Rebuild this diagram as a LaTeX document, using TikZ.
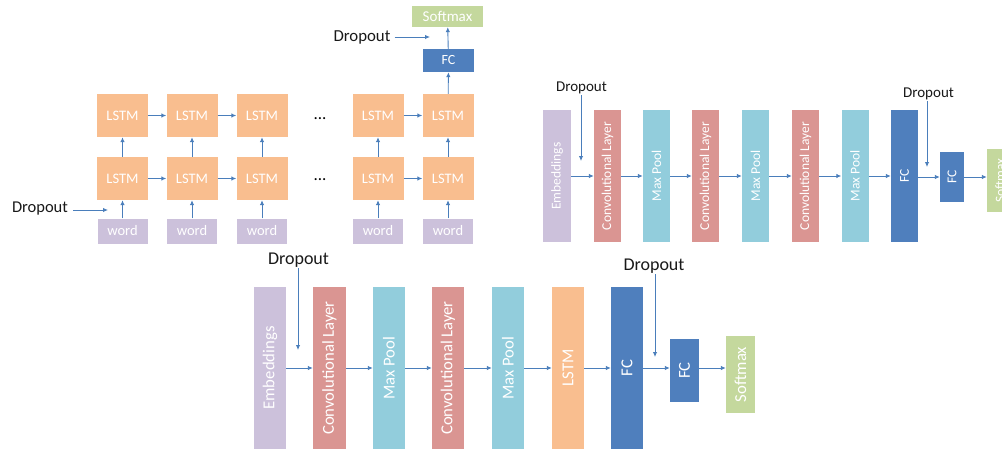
\documentclass[tikz,border=0pt]{standalone}
\usepackage{fontspec}
\setmainfont{Carlito}
\usetikzlibrary{arrows.meta}
\definecolor{lstmc}{HTML}{F9BE8F}
\definecolor{wordc}{HTML}{CCC1DB}
\definecolor{fcc}{HTML}{4F7FBD}
\definecolor{smc}{HTML}{C4D89D}
\definecolor{convc}{HTML}{DA9592}
\definecolor{poolc}{HTML}{92CDDC}
\definecolor{arrc}{HTML}{4A7EBB}
\newcommand{\fs}[1]{\fontsize{#1}{#1}\selectfont}
\tikzset{
  blk/.style={draw=none, inner sep=0pt, text=white, anchor=center},
  lstmbox/.style={blk, fill=lstmc, minimum width=51pt, minimum height=43pt, font=\fs{14.5}},
  wordbox/.style={blk, fill=wordc, minimum width=50pt, minimum height=25pt, font=\fs{14.5}},
  arr/.style={draw=arrc, line width=0.9pt, -{Latex[length=5pt,width=4.5pt]}},
  droptext/.style={inner sep=1pt, text=black!90},
  vtop/.style={blk, rotate=90, font=\fs{13.5}},
  vbot/.style={blk, rotate=90, font=\fs{16.7}},
}
\begin{document}
\begin{tikzpicture}[x=1pt,y=-1pt]
\useasboundingbox (0,0) rectangle (1002,450);
\clip (0,0) rectangle (1002,450);
% ---------------- top-left LSTM network ----------------
\foreach \n/\x in {1/122.5,2/192,3/262,4/378,5/448}{
  \node[lstmbox] (t\n) at (\x,115.5) {LSTM};
  \node[lstmbox] (b\n) at (\x,178.5) {LSTM};
  \node[wordbox] (w\n) at (\x,231) {word};
  \draw[arr] (w\n) -- (b\n);
  \draw[arr] (b\n) -- (t\n);
}
\foreach \a/\b in {1/2,2/3,4/5}{
  \draw[arr] (t\a) -- (t\b);
  \draw[arr] (b\a) -- (b\b);
}
\node[font=\fs{17}] (dots1) at (320,119) {...};
\node[font=\fs{17}] (dots2) at (320,180) {...};
\node[blk, fill=fcc, minimum width=51pt, minimum height=23pt, font=\fs{14}] (fcA) at (448.5,60.5) {FC};
\node[blk, fill=smc, minimum width=71pt, minimum height=21pt, font=\fs{15}] (smA) at (447.5,16.5) {Softmax};
\draw[arr] (t5) -- (fcA);
\draw[arr] (fcA) -- (smA);
\node[droptext, font=\fs{16.8}] (dA) at (362,37) {Dropout};
\coordinate (dAe) at (430,37);
\draw[arr] (dA.east) ++(3,0) coordinate (dAs) (dAs) -- (dAe);
\node[droptext, font=\fs{16.5}] (dB) at (40,209) {Dropout};
\coordinate (dBe) at (108,210);
\draw[arr] (dB.east |- dBe) ++(4,0) coordinate (dBs) (dBs) -- (dBe);
% ---------------- top-right CNN ----------------
\node[vtop, fill=wordc, minimum width=132pt, minimum height=28pt] (e1) at (557,176) {Embeddings};
\node[vtop, fill=convc, minimum width=132pt, minimum height=27pt] (c1) at (607.5,176) {Convolutional Layer};
\node[vtop, fill=poolc, minimum width=132pt, minimum height=27pt] (p1) at (656.5,176) {Max Pool};
\node[vtop, fill=convc, minimum width=132pt, minimum height=27pt] (c2) at (705.5,176) {Convolutional Layer};
\node[vtop, fill=poolc, minimum width=132pt, minimum height=27pt] (p2) at (755.5,176) {Max Pool};
\node[vtop, fill=convc, minimum width=132pt, minimum height=27pt] (c3) at (805.5,176) {Convolutional Layer};
\node[vtop, fill=poolc, minimum width=132pt, minimum height=27pt] (p3) at (855,176) {Max Pool};
\node[vtop, fill=fcc, minimum width=132pt, minimum height=27pt] (f1) at (904.5,176) {FC};
\node[vtop, fill=fcc, minimum width=50pt, minimum height=24pt] (f2) at (952,177) {FC};
\node[vtop, fill=smc, minimum width=63pt, minimum height=26pt] (s1) at (1000,180.5) {Softmax};
\draw[arr] (e1.south) -- (c1.north);
\draw[arr] (c1.south) -- (p1.north);
\draw[arr] (p1.south) -- (c2.north);
\draw[arr] (c2.south) -- (p2.north);
\draw[arr] (p2.south) -- (c3.north);
\draw[arr] (c3.south) -- (p3.north);
\draw[arr] (p3.south) -- (f1.north);
\draw[arr] (f1.south |- 0,177) -- (f2.north |- 0,177);
\draw[arr] (f2.south |- 0,177) -- (s1.north |- 0,177);
\node[droptext, font=\fs{15}] (dC) at (581.5,88) {Dropout};
\coordinate (dCe) at (581,161);
\draw[arr] (dC.south -| dCe) -- (dCe);
\node[droptext, font=\fs{15}] (dD) at (928.5,94) {Dropout};
\coordinate (dDe) at (927,167);
\draw[arr] (dD.south -| dDe) -- (dDe);
% ---------------- bottom CNN + LSTM ----------------
\node[vbot, fill=wordc, minimum width=162pt, minimum height=32pt] (E) at (270,368) {Embeddings};
\node[vbot, fill=convc, minimum width=162pt, minimum height=33pt] (C1) at (329.5,368) {Convolutional Layer};
\node[vbot, fill=poolc, minimum width=162pt, minimum height=32pt] (P1) at (389,368) {Max Pool};
\node[vbot, fill=convc, minimum width=162pt, minimum height=32pt] (C2) at (448,368) {Convolutional Layer};
\node[vbot, fill=poolc, minimum width=162pt, minimum height=32pt] (P2) at (508,368) {Max Pool};
\node[vbot, fill=lstmc, minimum width=162pt, minimum height=32pt] (L) at (568,368) {LSTM};
\node[vbot, fill=fcc, minimum width=162pt, minimum height=32pt] (F1) at (627,368) {FC};
\node[vbot, fill=fcc, minimum width=63pt, minimum height=29pt] (F2) at (684.5,370.5) {FC};
\node[vbot, fill=smc, minimum width=77pt, minimum height=29pt] (S) at (740.5,374.5) {Softmax};
\draw[arr] (E.south) -- (C1.north);
\draw[arr] (C1.south) -- (P1.north);
\draw[arr] (P1.south) -- (C2.north);
\draw[arr] (C2.south) -- (P2.north);
\draw[arr] (P2.south) -- (L.north);
\draw[arr] (L.south) -- (F1.north);
\draw[arr] (F1.south) -- (F1.south -| F2.north);
\draw[arr] (F2.south |- 0,368) -- (S.north |- 0,368);
\node[droptext, font=\fs{18}] (dE) at (298.5,260) {Dropout};
\coordinate (dEe) at (298,350);
\draw[arr] (dE.south -| dEe) -- (dEe);
\node[droptext, font=\fs{18}] (dF) at (654,266) {Dropout};
\coordinate (dFe) at (655,357);
\draw[arr] (dF.south -| dFe) -- (dFe);
\end{tikzpicture}
\end{document}
